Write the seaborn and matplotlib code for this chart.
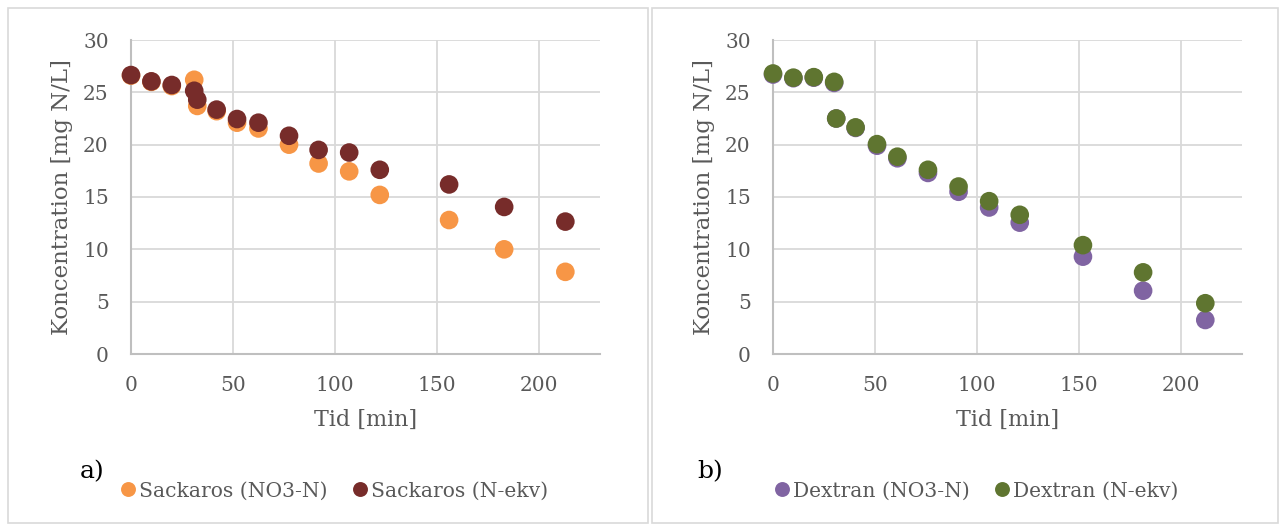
import matplotlib
matplotlib.use("Agg")
import matplotlib.pyplot as plt
from matplotlib.patches import Rectangle
import pandas as pd
import seaborn as sns

# Sampling times [min] and measured concentrations [mg N/L]
t_sackaros = [0, 10, 20, 31, 32.5, 42, 52, 62.5, 77.5, 92, 107, 122, 156, 183, 213]
sackaros_no3 = [26.6, 26.0, 25.6, 26.2, 23.7, 23.2, 22.1, 21.55, 20.0, 18.2, 17.45, 15.2, 12.8, 10.0, 7.85]
sackaros_nekv = [26.65, 26.05, 25.7, 25.15, 24.3, 23.35, 22.45, 22.1, 20.85, 19.5, 19.25, 17.6, 16.2, 14.05, 12.65]

t_dextran = [0, 10, 20, 30, 31, 40.5, 51, 61, 76, 91, 106, 121, 152, 181.5, 212]
dextran_no3 = [26.7, 26.35, 26.4, 25.9, 22.5, 21.6, 19.9, 18.7, 17.3, 15.5, 14.0, 12.55, 9.3, 6.05, 3.25]
dextran_nekv = [26.8, 26.4, 26.45, 26.0, 22.5, 21.65, 20.05, 18.85, 17.6, 16.0, 14.6, 13.3, 10.4, 7.8, 4.85]

series_sack = ["Sackaros (NO3-N)", "Sackaros (N-ekv)"]
series_dex = ["Dextran (NO3-N)", "Dextran (N-ekv)"]
colors_sack = ["#F79646", "#772C2A"]
colors_dex = ["#8064A2", "#5F7530"]

x_ticks = [0, 50, 100, 150, 200]
y_ticks = [0, 5, 10, 15, 20, 25, 30]
x_label = "Tid [min]"
y_label = "Koncentration [mg N/L]"
panel_tags = ["a)", "b)"]

sns.set_theme(style="whitegrid")
plt.rcParams["font.family"] = ["DejaVu Serif"]

TEXT = "#595959"
GRID = "#D9D9D9"
SPINE = "#BFBFBF"


def long_frame(t, a, b, names):
    return pd.DataFrame({
        "Tid": list(t) + list(t),
        "Konc": list(a) + list(b),
        "Serie": [names[0]] * len(t) + [names[1]] * len(t),
    })


W, H = 1279, 524
fig = plt.figure(figsize=(W / 100, H / 100), dpi=100)
fig.patch.set_facecolor("white")

# chart frames
for x0, x1 in [(8, 648), (652, W - 1)]:
    fig.patches.append(Rectangle((x0 / W, 1 / H), (x1 - x0) / W, (H - 9) / H,
                                 transform=fig.transFigure, fill=False,
                                 edgecolor=GRID, linewidth=1.2))

ax_h = (354 - 40) / H
ax_w = (600 - 131) / W
ax_a = fig.add_axes([131 / W, 1 - 354 / H, ax_w, ax_h])
ax_b = fig.add_axes([773 / W, 1 - 354 / H, ax_w, ax_h])

panels = [
    (ax_a, long_frame(t_sackaros, sackaros_no3, sackaros_nekv, series_sack), series_sack, colors_sack, panel_tags[0], 80 / W),
    (ax_b, long_frame(t_dextran, dextran_no3, dextran_nekv, series_dex), series_dex, colors_dex, panel_tags[1], 697 / W),
]

for ax, df, names, cols, tag, tag_x in panels:
    sns.scatterplot(data=df, x="Tid", y="Konc", hue="Serie", hue_order=names,
                    palette=dict(zip(names, cols)), s=180, linewidth=0,
                    clip_on=False, zorder=3, ax=ax)
    ax.set_xlim(0, 230)
    ax.set_ylim(0, 30)
    ax.set_xticks(x_ticks)
    ax.set_yticks(y_ticks)
    ax.grid(True, color=GRID, linewidth=1.3)
    ax.set_axisbelow(True)
    for side in ["top", "right"]:
        ax.spines[side].set_visible(False)
    for side in ["left", "bottom"]:
        ax.spines[side].set_color(SPINE)
        ax.spines[side].set_linewidth(1.5)
    ax.tick_params(axis="both", length=0, labelsize=14.5, labelcolor=TEXT)
    ax.tick_params(axis="y", pad=16)
    ax.tick_params(axis="x", pad=16)
    ax.set_xlabel(x_label, fontsize=16, color=TEXT, labelpad=10)
    ax.set_ylabel(y_label, fontsize=16.5, color=TEXT, labelpad=7)
    sns.move_legend(ax, "center", bbox_to_anchor=(0.42, -0.436), ncol=2,
                    frameon=False, title=None, fontsize=14.6,
                    handletextpad=-0.45, columnspacing=0.6, markerscale=0.8,
                    labelcolor=TEXT)
    fig.text(tag_x, 1 - 472 / H, tag, fontsize=18, color="black", va="center")

fig.savefig("out.png", dpi=100, facecolor="white")
